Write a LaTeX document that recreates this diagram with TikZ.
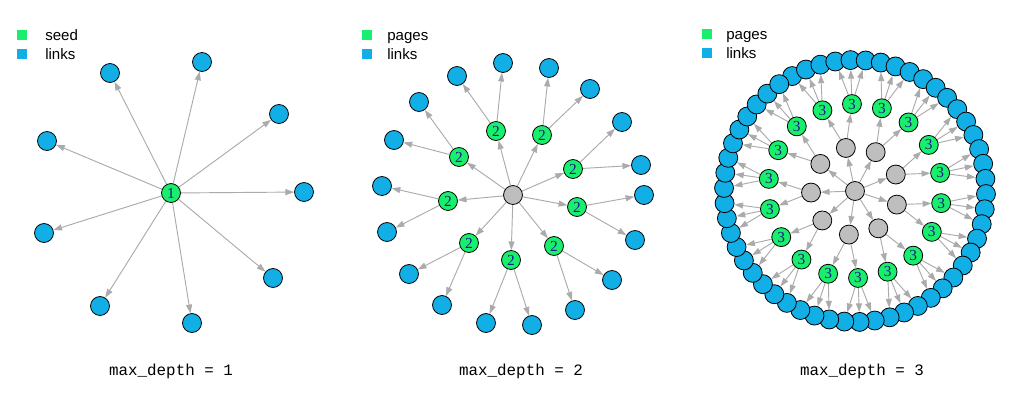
\documentclass[tikz,border=0pt]{standalone}
\usepackage{fontspec}
\setmonofont{Liberation Mono}
\newfontfamily\leyenda{Liberation Sans}
\newfontfamily\cifra{Liberation Serif}
\usetikzlibrary{arrows.meta,positioning,calc,backgrounds}
\definecolor{verde}{HTML}{19EF6C}
\definecolor{azul}{HTML}{12AEE6}
\definecolor{gris}{HTML}{BEBEBE}
\definecolor{grisarista}{HTML}{ABABAB}
\definecolor{etiqueta}{HTML}{1A1A8C}
\tikzset{
  nodo/.style={circle,draw=black,line width=0.6pt,minimum size=14.2pt,inner sep=0pt,
    font=\cifra\fontsize{11.5}{11.5}\selectfont,text=etiqueta},
  pagina/.style={nodo,fill=verde},
  enlace/.style={nodo,fill=azul},
  hub/.style={nodo,fill=gris},
  flecha/.style={draw=grisarista,line width=0.7pt,-{Triangle[length=6.5pt,width=4.5pt]}},
  cuadro/.style={minimum size=6.8pt,inner sep=0pt},
  txtley/.style={font=\leyenda\fontsize{11.3}{12}\selectfont,inner sep=0pt,anchor=base west},
  pie/.style={font=\ttfamily\fontsize{11.9}{12}\selectfont,inner sep=0pt}
}
\begin{document}
\begin{tikzpicture}[x=0.75pt,y=-0.75pt]
\useasboundingbox (0,0) rectangle (1024,400);
\begin{scope}[on background layer]
  \fill[white] (0,0) rectangle (1024,400);
\end{scope}

% Leyenda 1
\node[cuadro,fill=verde] (k1) at (22,35) {};
\node[cuadro,fill=azul] (l1) at (22,54) {};
\node[txtley] (tk1) at (45,40) {seed};
\node[txtley] (tl1) at (45,59.5) {links};

% Profundidad 1
\node[pagina] (s) at (171,193) {1};
\foreach \x/\y [count=\i] in {110/73,202/62,279/114,304/192,273/278,192/323,100/306,44/233,47/141}{
  \node[enlace] (a\i) at (\x,\y) {};
  \begin{scope}[on background layer]
    \draw[flecha] (s) -- (a\i);
  \end{scope}
}
\node[pie] (t1) at (171,371) {max\_depth = 1};

% Leyenda 2
\node[cuadro,fill=verde] (k2) at (367,35) {};
\node[cuadro,fill=azul] (l2) at (367,54) {};
\node[txtley] (tk2) at (387,40) {pages};
\node[txtley] (tl2) at (387,59.5) {links};

% Profundidad 2
\node[hub] (r2) at (513,195) {};
\foreach \x/\y/\ux/\uy/\vx/\vy [count=\i] in {
  496/131/457/76/503/63, 542/135/549/68/590/89, 459/157/419/102/394/140,
  573/169/622/122/641/165, 448/201/382/186/387/232, 577/207/644/195/635/240,
  469/243/409/274/442/305, 554/246/612/280/575/310, 511/260/486/323/532/325}{
  \node[pagina] (p\i) at (\x,\y) {2};
  \node[enlace] (u\i) at (\ux,\uy) {};
  \node[enlace] (v\i) at (\vx,\vy) {};
  \begin{scope}[on background layer]
    \draw[flecha] (r2) -- (p\i);
    \draw[flecha] (p\i) -- (u\i);
    \draw[flecha] (p\i) -- (v\i);
  \end{scope}
}
\node[pie] (t2) at (521,371) {max\_depth = 2};

% Leyenda 3
\node[cuadro,fill=verde] (k3) at (707,34) {};
\node[cuadro,fill=azul] (l3) at (707,53) {};
\node[txtley] (tk3) at (726,39) {pages};
\node[txtley] (tl3) at (726,58.5) {links};

% Profundidad 3
\coordinate (c3) at (855,191);
\node[hub] (r3) at (c3) {};
\foreach \k in {0,...,8}{
  \pgfmathsetmacro\ang{40*\k-102}
  \node[hub] (g\k) at ($(c3)+(\ang:44)$) {};
}
\foreach \j in {0,...,17}{
  \pgfmathsetmacro\ang{20*\j-112}
  \node[pagina] (q\j) at ($(c3)+(\ang:87)$) {3};
}
\foreach \i in {0,...,53}{
  \pgfmathsetmacro\ang{6.6667*\i-118.667}
  \node[enlace] (e\i) at ($(c3)+(\ang:131)$) {};
}
\begin{scope}[on background layer]
  \foreach \k in {0,...,8} \draw[flecha] (r3) -- (g\k);
  \foreach \j in {0,...,17}{
    \pgfmathtruncatemacro\k{floor(\j/2)}
    \draw[flecha] (g\k) -- (q\j);
  }
  \foreach \i in {0,...,53}{
    \pgfmathtruncatemacro\j{floor(\i/3)}
    \draw[flecha] (q\j) -- (e\i);
  }
\end{scope}
\node[pie] (t3) at (862,371) {max\_depth = 3};
\end{tikzpicture}
\end{document}
